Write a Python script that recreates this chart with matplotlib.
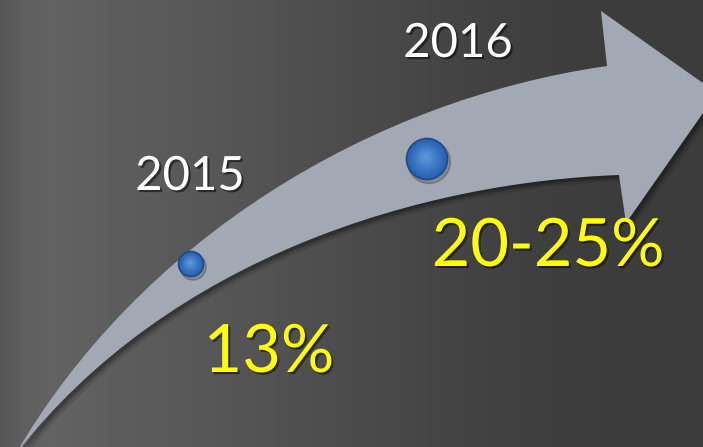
import numpy as np
import matplotlib
matplotlib.use("Agg")
import matplotlib.pyplot as plt
from matplotlib.path import Path
from matplotlib.patches import PathPatch, Circle
import matplotlib.patheffects as pe
import matplotlib.transforms as mtransforms

# ---- data ----
years = ["2015", "2016"]
shares = ["13%", "20-25%"]
share_mid = [13, 22.5]          # midpoint of each share, sets sphere size

# ---- layout (pixels, y downward) ----
W, H = 703, 447
sphere_xy = [(191, 264), (427, 159)]
year_xy = [(190, 177), (458, 44)]
share_xy = [(269, 353), (548, 247)]

fig = plt.figure(figsize=(W / 100, H / 100), dpi=100)
ax = fig.add_axes([0, 0, 1, 1])
ax.set_xlim(0, W)
ax.set_ylim(H, 0)
ax.axis("off")

# background gradient
xs = np.array([0, 20, 50, 120, 200, 300, 400, 500, 600, 703])
vs = np.array([0x56, 0x5e, 0x63, 0x5d, 0x58, 0x50, 0x48, 0x41, 0x3d, 0x3c]) / 255
col = np.interp(np.arange(W), xs, vs)
img = np.repeat(np.stack([col, col, col], axis=-1)[None, :, :], 2, axis=0)
ax.imshow(img, extent=[0, W, H, 0], aspect="auto", zorder=0)

# arrow shape
verts = [
    (15, 455),
    (140, 240), (370, 100), (607, 66),
    (601, 11),
    (717, 93),
    (626, 223),
    (619, 175),
    (425, 182), (170, 255), (15, 455),
    (15, 455),
]
codes = [Path.MOVETO,
         Path.CURVE4, Path.CURVE4, Path.CURVE4,
         Path.LINETO, Path.LINETO, Path.LINETO, Path.LINETO,
         Path.CURVE4, Path.CURVE4, Path.CURVE4,
         Path.CLOSEPOLY]
path = Path(verts, codes)
for dx, a in [(6, 0.10), (4, 0.15), (2.5, 0.2)]:
    shadow = PathPatch(path, facecolor="black", edgecolor="none", alpha=a,
                       transform=mtransforms.Affine2D().translate(dx, dx) + ax.transData,
                       zorder=1)
    ax.add_patch(shadow)
ax.add_patch(PathPatch(path, facecolor="#a3a9b4", edgecolor="none", zorder=2))

# spheres
base = np.array([0x2a, 0x64, 0xb4]) / 255
light = np.array([0x6a, 0xa6, 0xe8]) / 255
for (cx, cy), v in zip(sphere_xy, share_mid):
    r = 12.5 * (v / share_mid[0]) ** 0.9
    ax.add_patch(Circle((cx + 2, cy + 3), r * 1.05, color="black", alpha=0.2, zorder=3))
    ax.add_patch(Circle((cx, cy), r, facecolor="#2a64b4", edgecolor="#1c4a8a", lw=1.2, zorder=4))
    for k in range(12):
        f = 1 - k / 12
        c = base * (1 - k / 14) + light * (k / 14)
        ax.add_patch(Circle((cx - r * 0.08 * (k / 12), cy - r * 0.12 * (k / 12)), r * f * 0.92,
                            facecolor=c, edgecolor="none", zorder=5))

shadow_fx = [pe.SimplePatchShadow(offset=(1.5, -1.5), shadow_rgbFace="black", alpha=0.5), pe.Normal()]
for (tx, ty), t in zip(year_xy, years):
    ax.text(tx, ty, t, color="white", fontsize=34, family="Lato", ha="center", va="center",
            zorder=6, path_effects=shadow_fx)
for (tx, ty), t in zip(share_xy, shares):
    ax.text(tx, ty, t, color="#ffff00", fontsize=48, family="Lato", ha="center", va="center",
            zorder=6, path_effects=shadow_fx)

fig.savefig("out.png", dpi=100)
